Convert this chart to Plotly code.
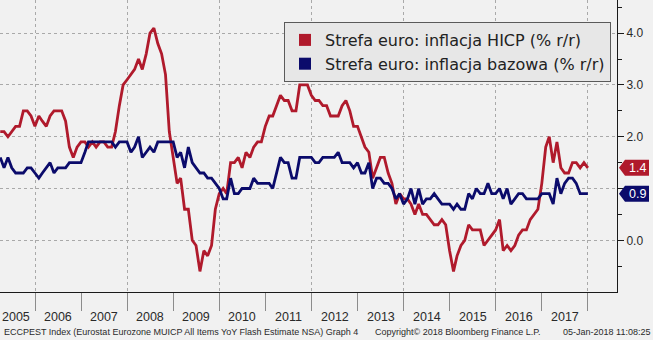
import pandas as pd
import plotly.graph_objects as go

# Euro area inflation, monthly y/y (%), March 2005 - December 2017
start_month = "2005-03-01"

hicp = [
    2.1, 2.1, 2.0, 2.1, 2.2, 2.2, 2.5, 2.5, 2.4, 2.2,                  # 2005 (Mar-Dec)
    2.4, 2.3, 2.2, 2.4, 2.5, 2.5, 2.5, 2.3, 1.8, 1.6, 1.8, 1.9,        # 2006
    1.9, 1.8, 1.9, 1.8, 1.9, 1.9, 1.8, 1.8, 2.1, 2.6, 3.0, 3.1,        # 2007
    3.2, 3.3, 3.5, 3.3, 3.6, 4.0, 4.1, 3.8, 3.6, 3.2, 2.1, 1.6,        # 2008
    1.1, 1.2, 0.6, 0.6, 0.0, -0.1, -0.6, -0.2, -0.3, -0.1, 0.6, 0.9,   # 2009
    1.0, 0.9, 1.5, 1.5, 1.6, 1.4, 1.7, 1.6, 1.8, 1.9, 1.9, 2.2,        # 2010
    2.4, 2.4, 2.6, 2.8, 2.7, 2.7, 2.5, 2.5, 3.0, 3.0, 3.0, 2.8,        # 2011
    2.7, 2.7, 2.6, 2.6, 2.4, 2.4, 2.4, 2.6, 2.7, 2.5, 2.2, 2.2,        # 2012
    2.0, 1.8, 1.7, 1.2, 1.4, 1.6, 1.6, 1.3, 1.1, 0.7, 0.9, 0.8,        # 2013
    0.8, 0.7, 0.5, 0.7, 0.5, 0.5, 0.4, 0.3, 0.3, 0.4, 0.3, -0.2,       # 2014
    -0.6, -0.3, -0.1, 0.0, 0.3, 0.2, 0.2, 0.2, -0.1, 0.0, 0.1, 0.2,    # 2015
    0.4, -0.2, -0.1, -0.2, -0.1, 0.1, 0.2, 0.2, 0.4, 0.5, 0.6, 1.1,    # 2016
    1.8, 2.0, 1.5, 1.9, 1.4, 1.3, 1.3, 1.5, 1.5, 1.4, 1.5, 1.4,        # 2017
]

core = [
    1.6, 1.4, 1.6, 1.4, 1.3, 1.3, 1.3, 1.4, 1.4, 1.3,                  # 2005 (Mar-Dec)
    1.2, 1.3, 1.4, 1.5, 1.3, 1.4, 1.4, 1.4, 1.5, 1.5, 1.5, 1.5,        # 2006
    1.7, 1.9, 1.9, 1.9, 1.9, 1.9, 1.9, 1.9, 1.8, 1.9, 1.9, 1.9,        # 2007
    1.7, 1.8, 2.0, 1.6, 1.7, 1.8, 1.7, 1.9, 1.9, 1.9, 1.9, 1.9,        # 2008
    1.6, 1.7, 1.4, 1.8, 1.5, 1.4, 1.3, 1.3, 1.2, 1.2, 1.1, 1.0,        # 2009
    0.8, 0.8, 1.2, 0.9, 0.9, 1.0, 1.0, 1.0, 1.2, 1.1, 1.1, 1.1,        # 2010
    1.1, 1.0, 1.3, 1.6, 1.5, 1.5, 1.2, 1.2, 1.6, 1.6, 1.6, 1.6,        # 2011
    1.5, 1.5, 1.6, 1.6, 1.6, 1.6, 1.7, 1.5, 1.5, 1.5, 1.4, 1.5,        # 2012
    1.3, 1.3, 1.5, 1.0, 1.2, 1.2, 1.1, 1.1, 1.0, 0.8, 0.9, 0.7,        # 2013
    0.8, 1.0, 0.7, 1.0, 0.7, 0.8, 0.8, 0.9, 0.8, 0.7, 0.7, 0.7,        # 2014
    0.6, 0.7, 0.6, 0.6, 0.9, 0.8, 1.0, 0.9, 0.9, 1.1, 0.9, 0.9,        # 2015
    1.0, 0.8, 1.0, 0.7, 0.8, 0.9, 0.9, 0.8, 0.8, 0.8, 0.8, 0.9,        # 2016
    0.9, 0.9, 0.7, 1.2, 0.9, 1.1, 1.2, 1.2, 1.1, 0.9, 0.9, 0.9,        # 2017
]

hicp_name = "Strefa euro: inflacja HICP (% r/r)"
core_name = "Strefa euro: inflacja bazowa (% r/r)"

label_years = list(range(2005, 2018))
year_labels = [str(y) for y in label_years]

y_ticks = [0.0, 1.0, 2.0, 3.0, 4.0]

footer_left = "ECCPEST Index (Eurostat Eurozone MUICP All Items YoY Flash Estimate NSA) Graph 4"
footer_mid = "Copyright\u00a9 2018 Bloomberg Finance L.P."
footer_right = "05-Jan-2018 11:08:25"

# month-end observation dates
dates = pd.date_range(start=start_month, periods=len(hicp), freq="MS") + pd.offsets.MonthEnd(0)

RED = "#b01a2c"
NAVY = "#0b0b6b"
BG = "#f1f1f1"
GRID = "#a9a9a9"
AXIS = "#1a1a1a"
TXT = "#2a2a2a"
SEP = "#8c8c8c"
x_range = ["2005-03-29", "2018-08-19"]

series_list = [(hicp, RED), (core, NAVY)]
last_values = [s[-1] for s, _ in series_list]

# axis labels that would sit underneath a last-value tag are left blank
y_ticktext = [
    "" if any(abs(v - lv) < 0.25 for lv in last_values) else f"{v:.1f}" for v in y_ticks
]

fig = go.Figure()

fig.add_trace(go.Scatter(x=dates, y=hicp, mode="lines", line=dict(color=RED, width=2.8),
                         showlegend=False, hoverinfo="skip"))
fig.add_trace(go.Scatter(x=dates, y=core, mode="lines", line=dict(color=NAVY, width=2.8),
                         showlegend=False, hoverinfo="skip"))

# legend entries with square swatches
fig.add_trace(go.Scatter(x=[None], y=[None], mode="markers", name=hicp_name,
                         marker=dict(symbol="square", size=12, color=RED)))
fig.add_trace(go.Scatter(x=[None], y=[None], mode="markers", name=core_name,
                         marker=dict(symbol="square", size=12, color=NAVY)))

annotations = []
shapes = []

# year names centred in each calendar year, below the separators;
# the first (partial) year is kept inside the left edge
for i, (year, label) in enumerate(zip(label_years, year_labels)):
    first = i == 0
    annotations.append(dict(xref="x", yref="paper",
                            x=x_range[0] if first else f"{year}-07-02", y=-0.0856,
                            xanchor="left" if first else "center", yanchor="middle",
                            text=label, showarrow=False,
                            font=dict(family="Liberation Sans", size=12.5, color=TXT)))

# last-value tags on the right axis: notched box with the value in white
for series, color in series_list:
    last = series[-1]
    shapes.append(dict(type="path", xref="paper", yref="y", xsizemode="pixel", ysizemode="pixel",
                       xanchor=1, yanchor=last, path="M 2 0 L 8 -8 L 32 -8 L 32 8 L 8 8 Z",
                       fillcolor=color, line=dict(width=0), layer="above"))
    annotations.append(dict(xref="paper", yref="y", x=1, y=last, xanchor="center",
                            yanchor="middle", xshift=20, text=f"{last:.1f}", showarrow=False,
                            font=dict(family="Liberation Sans", size=12.5, color="white")))

footer_font = dict(family="Liberation Sans", size=9, color=TXT)
annotations.append(dict(xref="paper", yref="paper", x=0, y=-0.137, xanchor="left", yanchor="middle",
                        xshift=2, text=footer_left, showarrow=False, font=footer_font))
annotations.append(dict(xref="paper", yref="paper", x=373 / 617, y=-0.137, xanchor="left",
                        yanchor="middle", text=footer_mid, showarrow=False, font=footer_font))
annotations.append(dict(xref="paper", yref="paper", x=1, y=-0.137, xanchor="right", yanchor="middle",
                        xshift=35, text=footer_right, showarrow=False, font=footer_font))

fig.update_layout(
    width=653, height=340,
    margin=dict(l=0, r=36, t=0, b=48),
    paper_bgcolor=BG, plot_bgcolor=BG,
    showlegend=True,
    legend=dict(x=284 / 617, y=1 - 22 / 292, xanchor="left", yanchor="top",
                bgcolor="#e7e7e7", bordercolor="#5a5a5a", borderwidth=1,
                font=dict(family="DejaVu Sans", size=16, color="#222"),
                itemsizing="constant", tracegroupgap=0),
    xaxis=dict(type="date", range=x_range,
               tickmode="linear", tick0="2006-01-01", dtick="M24",
               ticks="outside", ticklen=18, tickcolor=SEP, showticklabels=False,
               showgrid=True, gridcolor=GRID, griddash="dot", gridwidth=1,
               showline=True, linecolor=AXIS, linewidth=1, zeroline=False,
               minor=dict(tick0="2006-01-01", dtick="M12", ticks="outside", ticklen=18,
                          tickcolor=SEP, showgrid=False)),
    yaxis=dict(side="right", range=[-0.998, 4.64], tickmode="array", tickvals=y_ticks,
               ticktext=y_ticktext, ticks="outside", ticklen=6, tickwidth=1, tickcolor=AXIS,
               showline=True, linecolor=AXIS, linewidth=1,
               showgrid=True, gridcolor=GRID, griddash="dot", gridwidth=1, zeroline=False,
               tickfont=dict(family="Liberation Sans", size=12, color=TXT),
               minor=dict(tick0=0, dtick=0.5, ticks="outside", ticklen=4, tickcolor=AXIS,
                          showgrid=False)),
    shapes=shapes,
    annotations=annotations,
)

fig.write_html("out.html")
